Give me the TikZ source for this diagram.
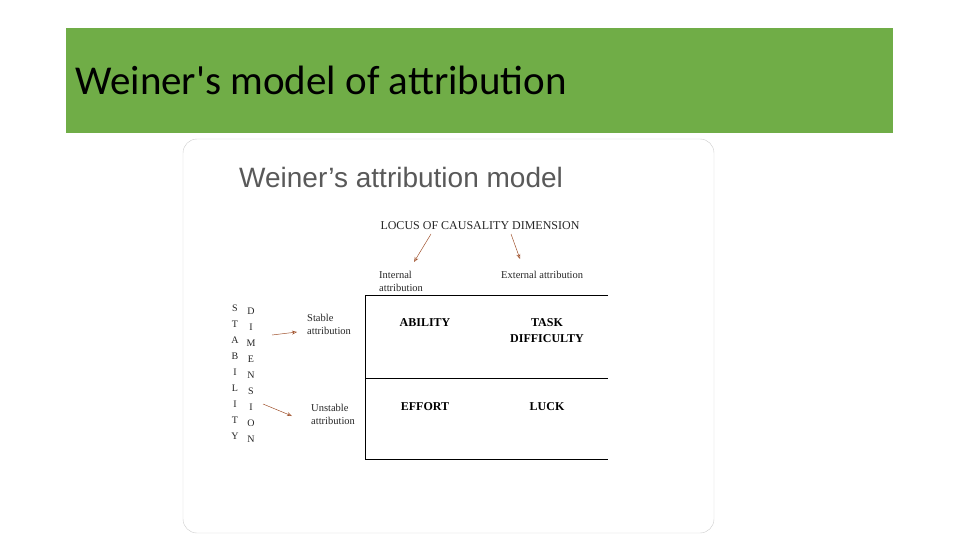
\documentclass[tikz,border=0pt]{standalone}
\usepackage{fontspec}
\setmainfont{Liberation Serif}
\newfontfamily\titlefont{Carlito}
\newfontfamily\arialfont{Liberation Sans}
\usetikzlibrary{arrows.meta}
\definecolor{bannergreen}{HTML}{70AD47}
\definecolor{arrowbrown}{HTML}{A0522D}
\tikzset{
 lbl/.style={font=\fontsize{10.5}{13}\selectfont, text=black!85, align=left, inner sep=0pt},
 cell/.style={font=\bfseries\fontsize{12}{16}\selectfont, align=center, inner sep=0pt},
 arr/.style={arrowbrown, line width=0.5pt, -{Stealth[length=5pt,width=4pt,open]}},
 vlet/.style={font=\fontsize{10}{11}\selectfont, inner sep=0pt, text=black!85}
}
\begin{document}
\begin{tikzpicture}[x=1pt,y=-1pt]
\useasboundingbox (0,0) rectangle (960,540);
\fill[bannergreen] (66,28) rectangle (893,133);
\node[anchor=west, font=\titlefont\fontsize{41}{46}\selectfont, inner sep=0pt] (title) at (75,80) {Weiner's model of attribution};
\draw[black!20, rounded corners=14pt] (183,139) rectangle (714,533);
\node[anchor=west, font=\arialfont\fontsize{28}{32}\selectfont, text=black!65, inner sep=0pt] (sub) at (239,177) {Weiner’s attribution model};
\node[font=\fontsize{12}{14}\selectfont, inner sep=1pt, text=black!85] (locus) at (480,226) {LOCUS OF CAUSALITY DIMENSION};
\node[lbl, anchor=north west] (int) at (379,271) {Internal\\attribution};
\node[lbl, anchor=north west] (ext) at (501,271) {External attribution};
\coordinate (l1) at (431,234); \coordinate (l1e) at (414,262);
\coordinate (l2) at (511,234); \coordinate (l2e) at (520,259);
\draw[arr] (l1) -- (l1e);
\draw[arr] (l2) -- (l2e);
\draw[line width=0.8pt] (608,295) -- (365,295) -- (365,459) -- (608,459);
\draw[line width=0.8pt] (365,378) -- (608,378);
\node[cell] (ab) at (425,323) {ABILITY};
\node[cell] (td) at (547,331) {TASK\\DIFFICULTY};
\node[cell] (ef) at (425,407) {EFFORT};
\node[cell] (lu) at (547,407) {LUCK};
\node[lbl, anchor=west] (st) at (307,324) {Stable\\attribution};
\node[lbl, anchor=west] (un) at (311,414) {Unstable\\attribution};
\coordinate (s1) at (272,335); \coordinate (s1e) at (297,332);
\coordinate (u1) at (263,404); \coordinate (u1e) at (292,416);
\draw[arr] (s1) -- (s1e);
\draw[arr] (u1) -- (u1e);
\foreach \c [count=\i] in {S,T,A,B,I,L,I,T,Y}
  \node[vlet] (sa\i) at (235,{308+(\i-1)*16}) {\c};
\foreach \c [count=\i] in {D,I,M,E,N,S,I,O,N}
  \node[vlet] (di\i) at (251,{311+(\i-1)*16}) {\c};
\end{tikzpicture}
\end{document}
